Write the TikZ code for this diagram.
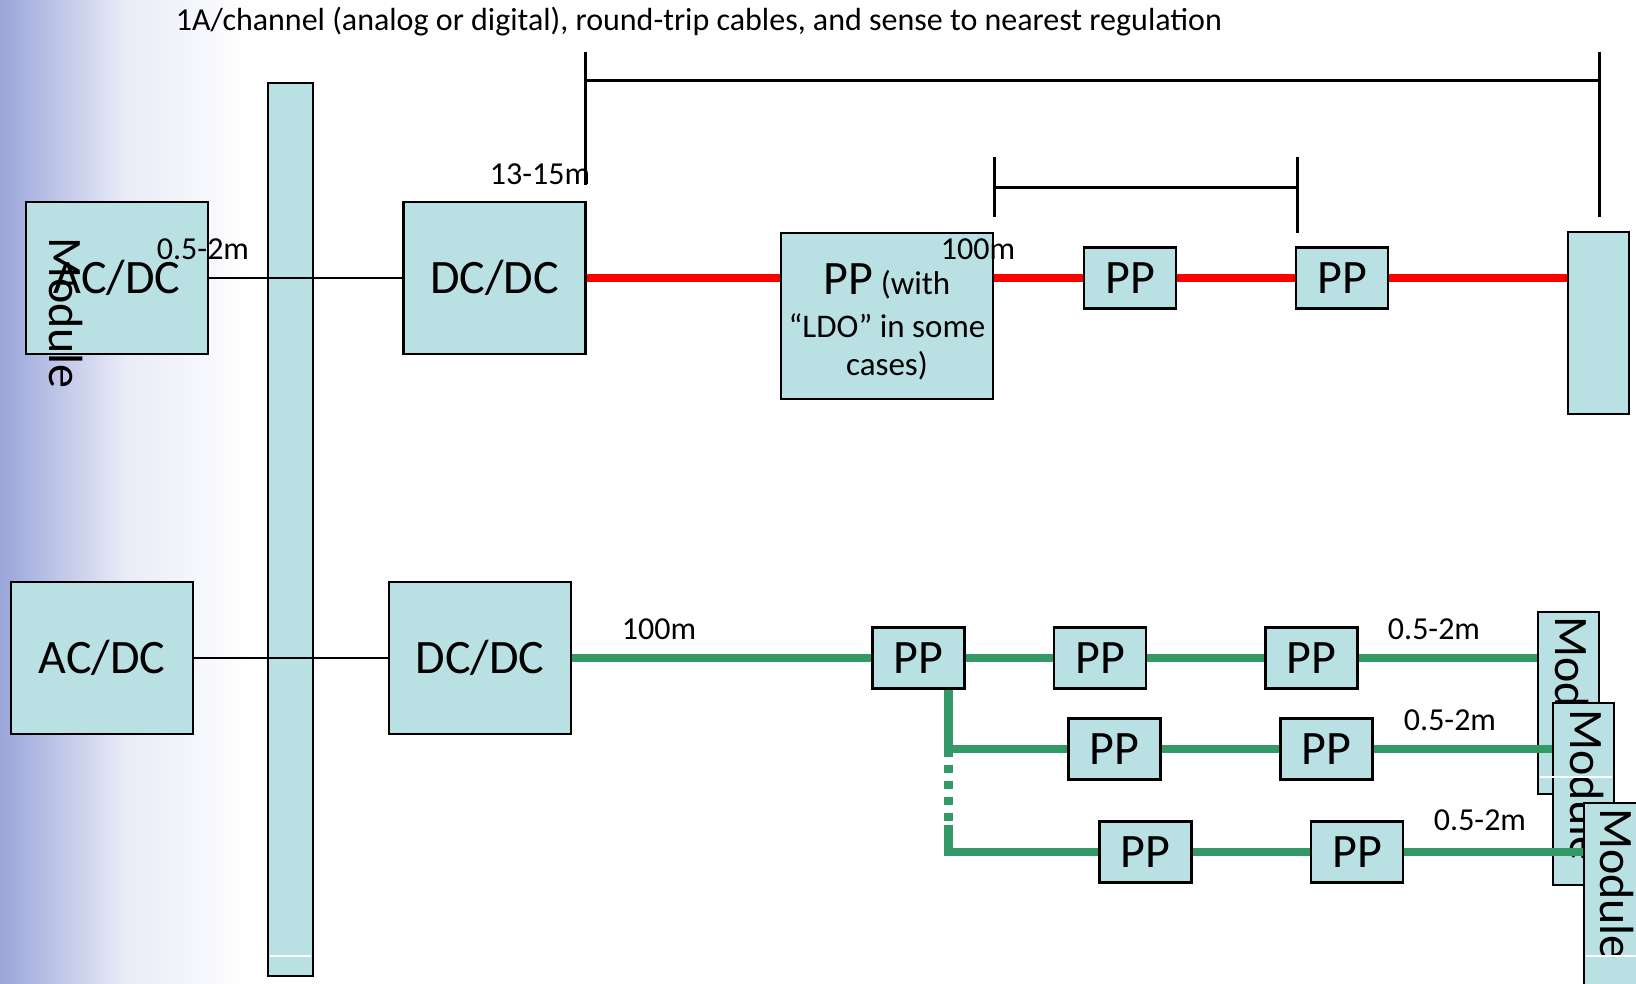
\documentclass[tikz,border=0pt]{standalone}
\usepackage{fontspec}
\setmainfont{Carlito}
\usepackage{tikz}
\definecolor{boxfill}{HTML}{B9E0E3}
\definecolor{cablered}{HTML}{FF0000}
\definecolor{cablegreen}{HTML}{339966}
\definecolor{fadeblue}{HTML}{9AA5DA}
\tikzset{
  blk/.style={draw=black, fill=boxfill, line width=2.6pt, inner sep=0pt, font=\fontsize{48}{56}\selectfont},
  bigblk/.style={blk, minimum width=182, minimum height=152},
  ppblk/.style={blk, minimum width=92, minimum height=61},
  modblk/.style={blk, minimum width=61, minimum height=182},
  tline/.style={draw=black, line width=2.4pt},
  brk/.style={draw=black, line width=3pt},
  rline/.style={draw=cablered, line width=8.5pt},
  gline/.style={draw=cablegreen, line width=8.5pt},
  lbl/.style={text=black, font=\fontsize{32}{38}\selectfont, inner sep=0pt},
  modtxt/.style={text=black, font=\fontsize{48}{56}\selectfont, rotate=-90, inner sep=0pt},
  seam/.style={draw=white, line width=1.2pt}
}

\begin{document}
\begin{tikzpicture}[x=1pt, y=-1pt]
  \clip (0,0) rectangle (1636,983);
  \shade[left color=fadeblue, right color=white, middle color=fadeblue!22] (0,0) rectangle (250,983);

  \node[blk, minimum width=45, minimum height=893] (bus) at (290.5,529.5) {};

  % upper chain
  \node[bigblk] (acdcA) at (117,278) {AC/DC};
  \node[bigblk] (dcdcA) at (494.5,278) {DC/DC};
  \node[blk, minimum width=212, minimum height=166, align=center, font=\fontsize{33}{38}\selectfont] (ppA) at (887,316) {};
  \node[align=center, font=\fontsize{33}{38}\selectfont, inner sep=0pt] (ppAtxt) at (887,322)
    {{\fontsize{48}{56}\selectfont PP} (with\\[5pt]“LDO” in some\\cases)};
  \node[ppblk] (ppB) at (1130,278) {PP};
  \node[ppblk] (ppC) at (1342,278) {PP};
  \node[modblk] (modR) at (1598.5,323) {};
  \node[modtxt] (modtxtA) at (66,313) {Module};

  \draw[tline] (acdcA) -- (dcdcA);
  \draw[rline] (dcdcA.east) -- (dcdcA.east -| ppA.west);
  \draw[rline] (ppA.east |- ppB.west) -- (ppB.west);
  \draw[rline] (ppB) -- (ppC);
  \draw[rline] (ppC.east) -- (ppC.east -| modR.west);

  % lower chain
  \node[bigblk] (acdcB) at (102,658) {AC/DC};
  \node[bigblk] (dcdcB) at (480,658) {DC/DC};
  \node[ppblk] (ppa) at (918.5,658) {PP};
  \node[ppblk] (ppb) at (1100,658) {PP};
  \node[ppblk] (ppc) at (1311.5,658) {PP};
  \node[ppblk] (ppd) at (1114.5,749) {PP};
  \node[ppblk] (ppe) at (1326.5,749) {PP};
  \node[ppblk] (ppf) at (1145.5,852) {PP};
  \node[ppblk] (ppg) at (1357,852) {PP};

  \coordinate (br2) at (948.5,749);
  \coordinate (br3top) at (948.5,825);
  \coordinate (br3) at (948.5,852);

  \draw[tline] (acdcB) -- (dcdcB);
  \draw[gline] (dcdcB) -- (ppa);
  \draw[gline] (ppa) -- (ppb);
  \draw[gline] (ppb) -- (ppc);
  \draw[gline] (ppa.south -| br2) -- (br2) -- (ppd.west);
  \draw[gline, dash pattern=on 8pt off 8pt] (br2) -- (br3top);
  \draw[gline] (br3top) -- (br3) -- (ppf.west);
  \draw[gline] (ppd) -- (ppe);
  \draw[gline] (ppf) -- (ppg);

  \node[modblk] (mod1) at (1568.5,703) {};
  \node[modtxt] (modtxt1) at (1572,692) {Module};
  \node[modblk] (mod2) at (1583.5,794) {};
  \node[modtxt] (modtxt2) at (1587,785) {Module};
  \node[modblk] (mod3) at (1614.5,894) {};
  \node[modtxt] (modtxt3) at (1617,884) {Module};

  \draw[gline] (ppc.east) -- (ppc.east -| mod1.west);
  \draw[gline] (ppe.east) -- (ppe.east -| mod2.west);
  \draw[gline] (ppg.east) -- (ppg.east -| mod3.west);

  % length markers
  \coordinate (bkL) at (585,80);
  \coordinate (bkR) at (1599,80);
  \draw[brk] (585,52) -- (585,185);
  \draw[brk] (1599,52) -- (1599,217);
  \draw[brk] (bkL) -- (bkR);
  \coordinate (bkl) at (994,187);
  \coordinate (bkr) at (1297,187);
  \draw[brk] (994,157) -- (994,217);
  \draw[brk] (1297,157) -- (1297,233);
  \draw[brk] (bkl) -- (bkr);

  \node[lbl] (title) at (699,22) {1A/channel (analog or digital), round-trip cables, and sense to nearest regulation};
  \node[lbl] (lenA) at (203,249) {0.5-2m};
  \node[lbl] (lenB) at (540,174) {13-15m};
  \node[lbl] (lenC) at (978,249) {100m};
  \node[lbl] (lenD) at (659,629) {100m};
  \node[lbl] (len1) at (1434,629) {0.5-2m};
  \node[lbl] (len2) at (1450,720) {0.5-2m};
  \node[lbl] (len3) at (1480,820) {0.5-2m};

  \draw[seam] (270,956) -- (311,956);
  \draw[seam] (1540,777) -- (1612,777);
  \draw[seam] (1586,956) -- (1636,956);
\end{tikzpicture}
\end{document}
